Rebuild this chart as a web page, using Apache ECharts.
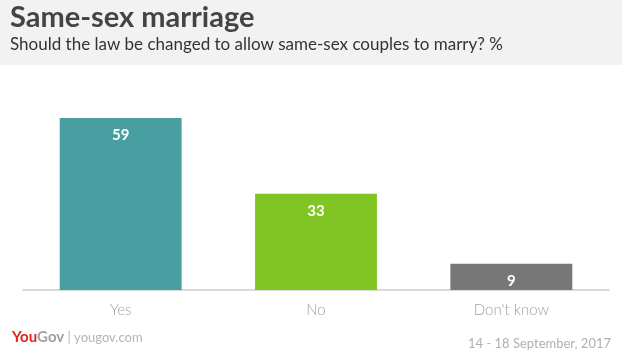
<!DOCTYPE html>
<html><head><meta charset="utf-8">
<script src="https://cdn.jsdelivr.net/npm/echarts@6/dist/echarts.min.js"></script>
<style>html,body{margin:0;padding:0;background:#fff}#c{width:622px;height:352px}</style>
</head><body><div id="c"></div>
<script>
const categories = ['Yes', 'No', "Don't know"];
const values = [59, 33, 9];
const barColors = ['#489ea0', '#80c524', '#777777'];
const titleText = 'Same-sex marriage';
const subtitleText = 'Should the law be changed to allow same-sex couples to marry? %';
const dateText = '14 - 18 September, 2017';

const chart = echarts.init(document.getElementById('c'));
chart.setOption({
  animation: false,
  backgroundColor: '#fff',
  graphic: [
    {type: 'rect', left: 0, top: 0, shape: {width: 622, height: 65}, style: {fill: '#f2f2f2'}, z: -1},
    {type: 'text', left: 10, top: 3, style: {text: titleText, font: 'bold 29px Lato, sans-serif', fill: '#444444'}},
    {type: 'text', left: 10, top: 36, style: {text: subtitleText, font: '17px Lato, sans-serif', fill: '#333333'}},
    {type: 'text', left: 12, top: 330, style: {
      text: '{a|You}{b|Gov}{c| | yougov.com}',
      rich: {
        a: {fontWeight: 'bold', fontSize: 15, fill: '#e2221c', fontFamily: 'Lato, sans-serif'},
        b: {fontWeight: 'bold', fontSize: 15, fill: '#a0a0a0', fontFamily: 'Lato, sans-serif'},
        c: {fontSize: 13, fill: '#b5b5b5', fontFamily: 'Lato, sans-serif'}
      }}},
    {type: 'text', right: 11, top: 337, style: {text: dateText, font: '13px Lato, sans-serif', fill: '#b0b0b0'}}
  ],
  grid: {left: 23, right: 13, top: 115, height: 175, containLabel: false},
  xAxis: {
    type: 'category', data: categories,
    axisLine: {lineStyle: {color: '#d9d9d9', width: 2}},
    axisTick: {show: false},
    axisLabel: {color: '#a0a0a0', fontSize: 15, fontWeight: 300, fontFamily: 'Lato, sans-serif', margin: 13}
  },
  yAxis: {type: 'value', min: 0, max: 60, show: false, splitLine: {show: false}},
  series: [{
    type: 'bar', barWidth: '62.4%',
    data: values.map((v, i) => ({value: v, itemStyle: {color: barColors[i]}})),
    label: {show: true, position: 'insideTop', distance: 10, color: '#ffffff', fontWeight: 'bold', fontSize: 15, fontFamily: 'Lato, sans-serif'}
  }]
});
</script></body></html>
